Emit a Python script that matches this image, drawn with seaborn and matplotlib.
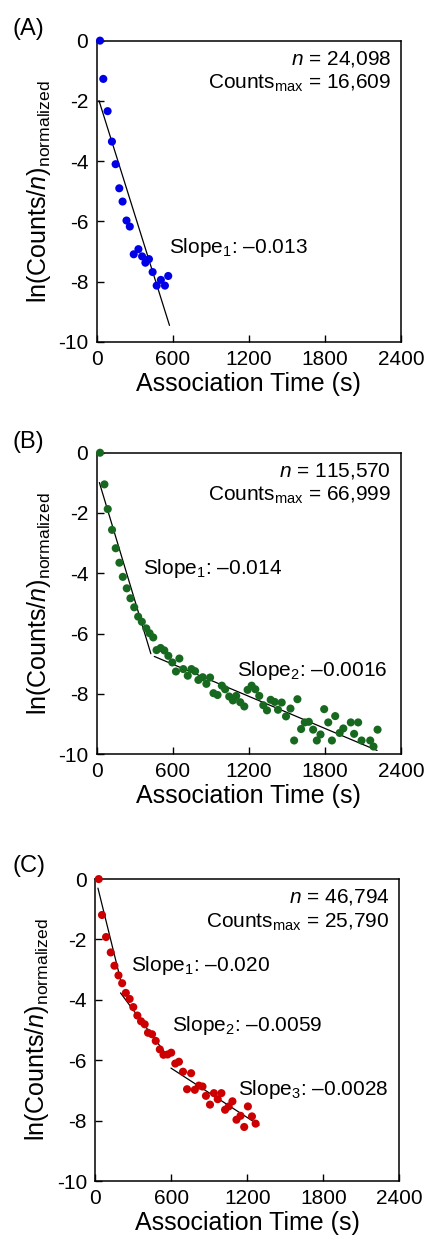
import numpy as np
import pandas as pd
import matplotlib
matplotlib.use("Agg")
import matplotlib.pyplot as plt
import seaborn as sns

# Panel A - blue
timeA = [26, 52, 86, 120, 149, 178, 204, 235, 261, 292, 329, 358, 384, 412, 441, 473, 506, 538, 564]
lnA = [0.0, -1.27, -2.34, -3.35, -4.10, -4.90, -5.34, -5.97, -6.17, -7.09, -6.92, -7.16,
       -7.37, -7.25, -7.68, -8.13, -7.94, -8.13, -7.81]
fitA_x = [[18, 574]]
fitA_y = [[-1.99, -9.45]]

# Panel B - green
timeB = [26, 61, 87, 121, 150, 179, 206, 237, 266, 296, 327, 356, 391, 417, 446, 472, 504, 533,
         565, 596, 625, 652, 683, 718, 747, 776, 802, 836, 865, 894, 921, 953, 987, 1013, 1045,
         1074, 1100, 1132, 1164, 1190, 1222, 1251, 1282, 1314, 1343, 1372, 1404, 1430, 1459, 1493,
         1528, 1557, 1583, 1612, 1641, 1673, 1707, 1736, 1765, 1794, 1826, 1855, 1881, 1916, 1945,
         2004, 2030, 2062, 2089, 2157, 2183, 2215]
lnB = [0.0, -1.05, -1.87, -2.56, -3.17, -3.65, -4.12, -4.50, -4.83, -5.13, -5.44, -5.61, -5.83,
       -5.99, -6.13, -6.55, -6.48, -6.56, -6.74, -6.96, -7.26, -6.83, -7.18, -7.40, -7.18, -7.25,
       -7.54, -7.45, -7.67, -7.46, -7.98, -8.04, -7.73, -7.85, -8.09, -8.22, -8.07, -8.28, -8.42,
       -7.87, -7.73, -7.85, -8.07, -8.38, -8.55, -8.20, -8.27, -8.53, -8.29, -8.75, -8.49, -9.55,
       -8.18, -9.17, -8.95, -8.93, -9.19, -9.55, -9.35, -8.51, -8.95, -9.55, -8.74, -9.30, -9.15,
       -8.95, -9.33, -8.95, -9.55, -9.55, -9.75, -9.19]
fitB_x = [[21, 427], [454, 2211]]
fitB_y = [[-0.99, -6.67], [-6.76, -9.88]]

# Panel C - red
timeC = [27, 53, 85, 122, 151, 183, 212, 241, 271, 300, 332, 361, 390, 416, 448, 477, 509, 538,
         570, 599, 631, 660, 692, 724, 756, 785, 817, 846, 873, 905, 936, 966, 995, 1024, 1053,
         1082, 1114, 1146, 1175, 1204, 1236, 1265]
lnC = [0.0, -1.19, -1.92, -2.43, -2.87, -3.19, -3.45, -3.77, -3.97, -4.24, -4.52, -4.71, -4.81,
       -5.09, -5.14, -5.36, -5.64, -5.82, -5.81, -5.75, -6.11, -6.05, -6.38, -6.96, -6.43, -6.98,
       -6.84, -6.87, -7.18, -7.47, -7.09, -7.29, -7.09, -7.64, -7.53, -7.36, -7.97, -7.84, -8.21,
       -7.53, -7.86, -8.10]
fitC_x = [[21, 212], [199, 576], [597, 1292]]
fitC_y = [[-0.30, -3.55], [-3.77, -5.90], [-6.26, -8.15]]

n_labels = ["24,098", "115,570", "46,794"]
cmax_labels = ["16,609", "66,999", "25,790"]
slope_labels = [["\u20130.013"], ["\u20130.014", "\u20130.0016"], ["\u20130.020", "\u20130.0059", "\u20130.0028"]]
slope_pos = [[(572, -6.85)], [(364, -3.83), (1108, -7.24)], [(284, -2.87), (602, -4.86), (1125, -6.96)]]
panel_names = ["(A)", "(B)", "(C)"]
colors = ["#0000e6", "#17691f", "#cc0000"]

sns.set_style("ticks", {"xtick.direction": "in", "ytick.direction": "in"})
plt.rcParams["font.family"] = ["Liberation Sans", "DejaVu Sans"]
plt.rcParams["mathtext.fontset"] = "custom"
plt.rcParams["mathtext.rm"] = "Liberation Sans"
plt.rcParams["mathtext.it"] = "Liberation Sans:italic"
plt.rcParams["axes.unicode_minus"] = False
for key in ["text.color", "axes.labelcolor", "xtick.color", "ytick.color", "axes.edgecolor"]:
    plt.rcParams[key] = "black"

fig = plt.figure(figsize=(4.3, 12.39), dpi=100)
rects = [[0.2249, 0.7240, 0.7077, 0.2432],
         [0.2249, 0.3914, 0.7077, 0.2432],
         [0.2216, 0.0468, 0.7074, 0.2437]]
label_y = [1 - 29 / 1239, 1 - 442 / 1239, 1 - 866 / 1239]

panels = [(timeA, lnA, fitA_x, fitA_y), (timeB, lnB, fitB_x, fitB_y), (timeC, lnC, fitC_x, fitC_y)]

for i, (t, v, fx, fy) in enumerate(panels):
    ax = fig.add_axes(rects[i])
    df = pd.DataFrame({"time": t, "ln": v})
    sns.scatterplot(data=df, x="time", y="ln", ax=ax, color=colors[i], s=34,
                    edgecolor="none", clip_on=False, zorder=3)
    for sx, sy in zip(fx, fy):
        sns.lineplot(x=sx, y=sy, ax=ax, color="black", linewidth=0.9, zorder=2)

    ax.set_xlim(0, 2400)
    ax.set_ylim(-10, 0)
    ax.set_xticks([0, 600, 1200, 1800, 2400])
    ax.set_yticks([0, -2, -4, -6, -8, -10])
    ax.set_yticklabels(["0", "-2", "-4", "-6", "-8", "-10"])
    ax.tick_params(labelsize=15, length=5, width=1, pad=6, color="black", labelcolor="black")
    for sp in ax.spines.values():
        sp.set_linewidth(1.1)
        sp.set_color("black")
    ax.set_xlabel("Association Time (s)", fontsize=18, labelpad=2)
    ax.set_ylabel(r"ln(Counts/$\it{n}$)$_{\rm normalized}$", fontsize=18, labelpad=4)

    ax.text(0.967, 0.94, r"$\it{n}$ = " + n_labels[i], transform=ax.transAxes,
            ha="right", va="center", fontsize=15)
    ax.text(0.967, 0.857, r"Counts$_{\rm max}$ = " + cmax_labels[i], transform=ax.transAxes,
            ha="right", va="center", fontsize=15)
    for k, (lab, pos) in enumerate(zip(slope_labels[i], slope_pos[i])):
        ax.text(pos[0], pos[1], "Slope$_{%d}$: %s" % (k + 1, lab), ha="left", va="center",
                fontsize=15)

    fig.text(13 / 430, label_y[i], panel_names[i], ha="left", va="center", fontsize=17)

fig.savefig("out.png", dpi=100)
